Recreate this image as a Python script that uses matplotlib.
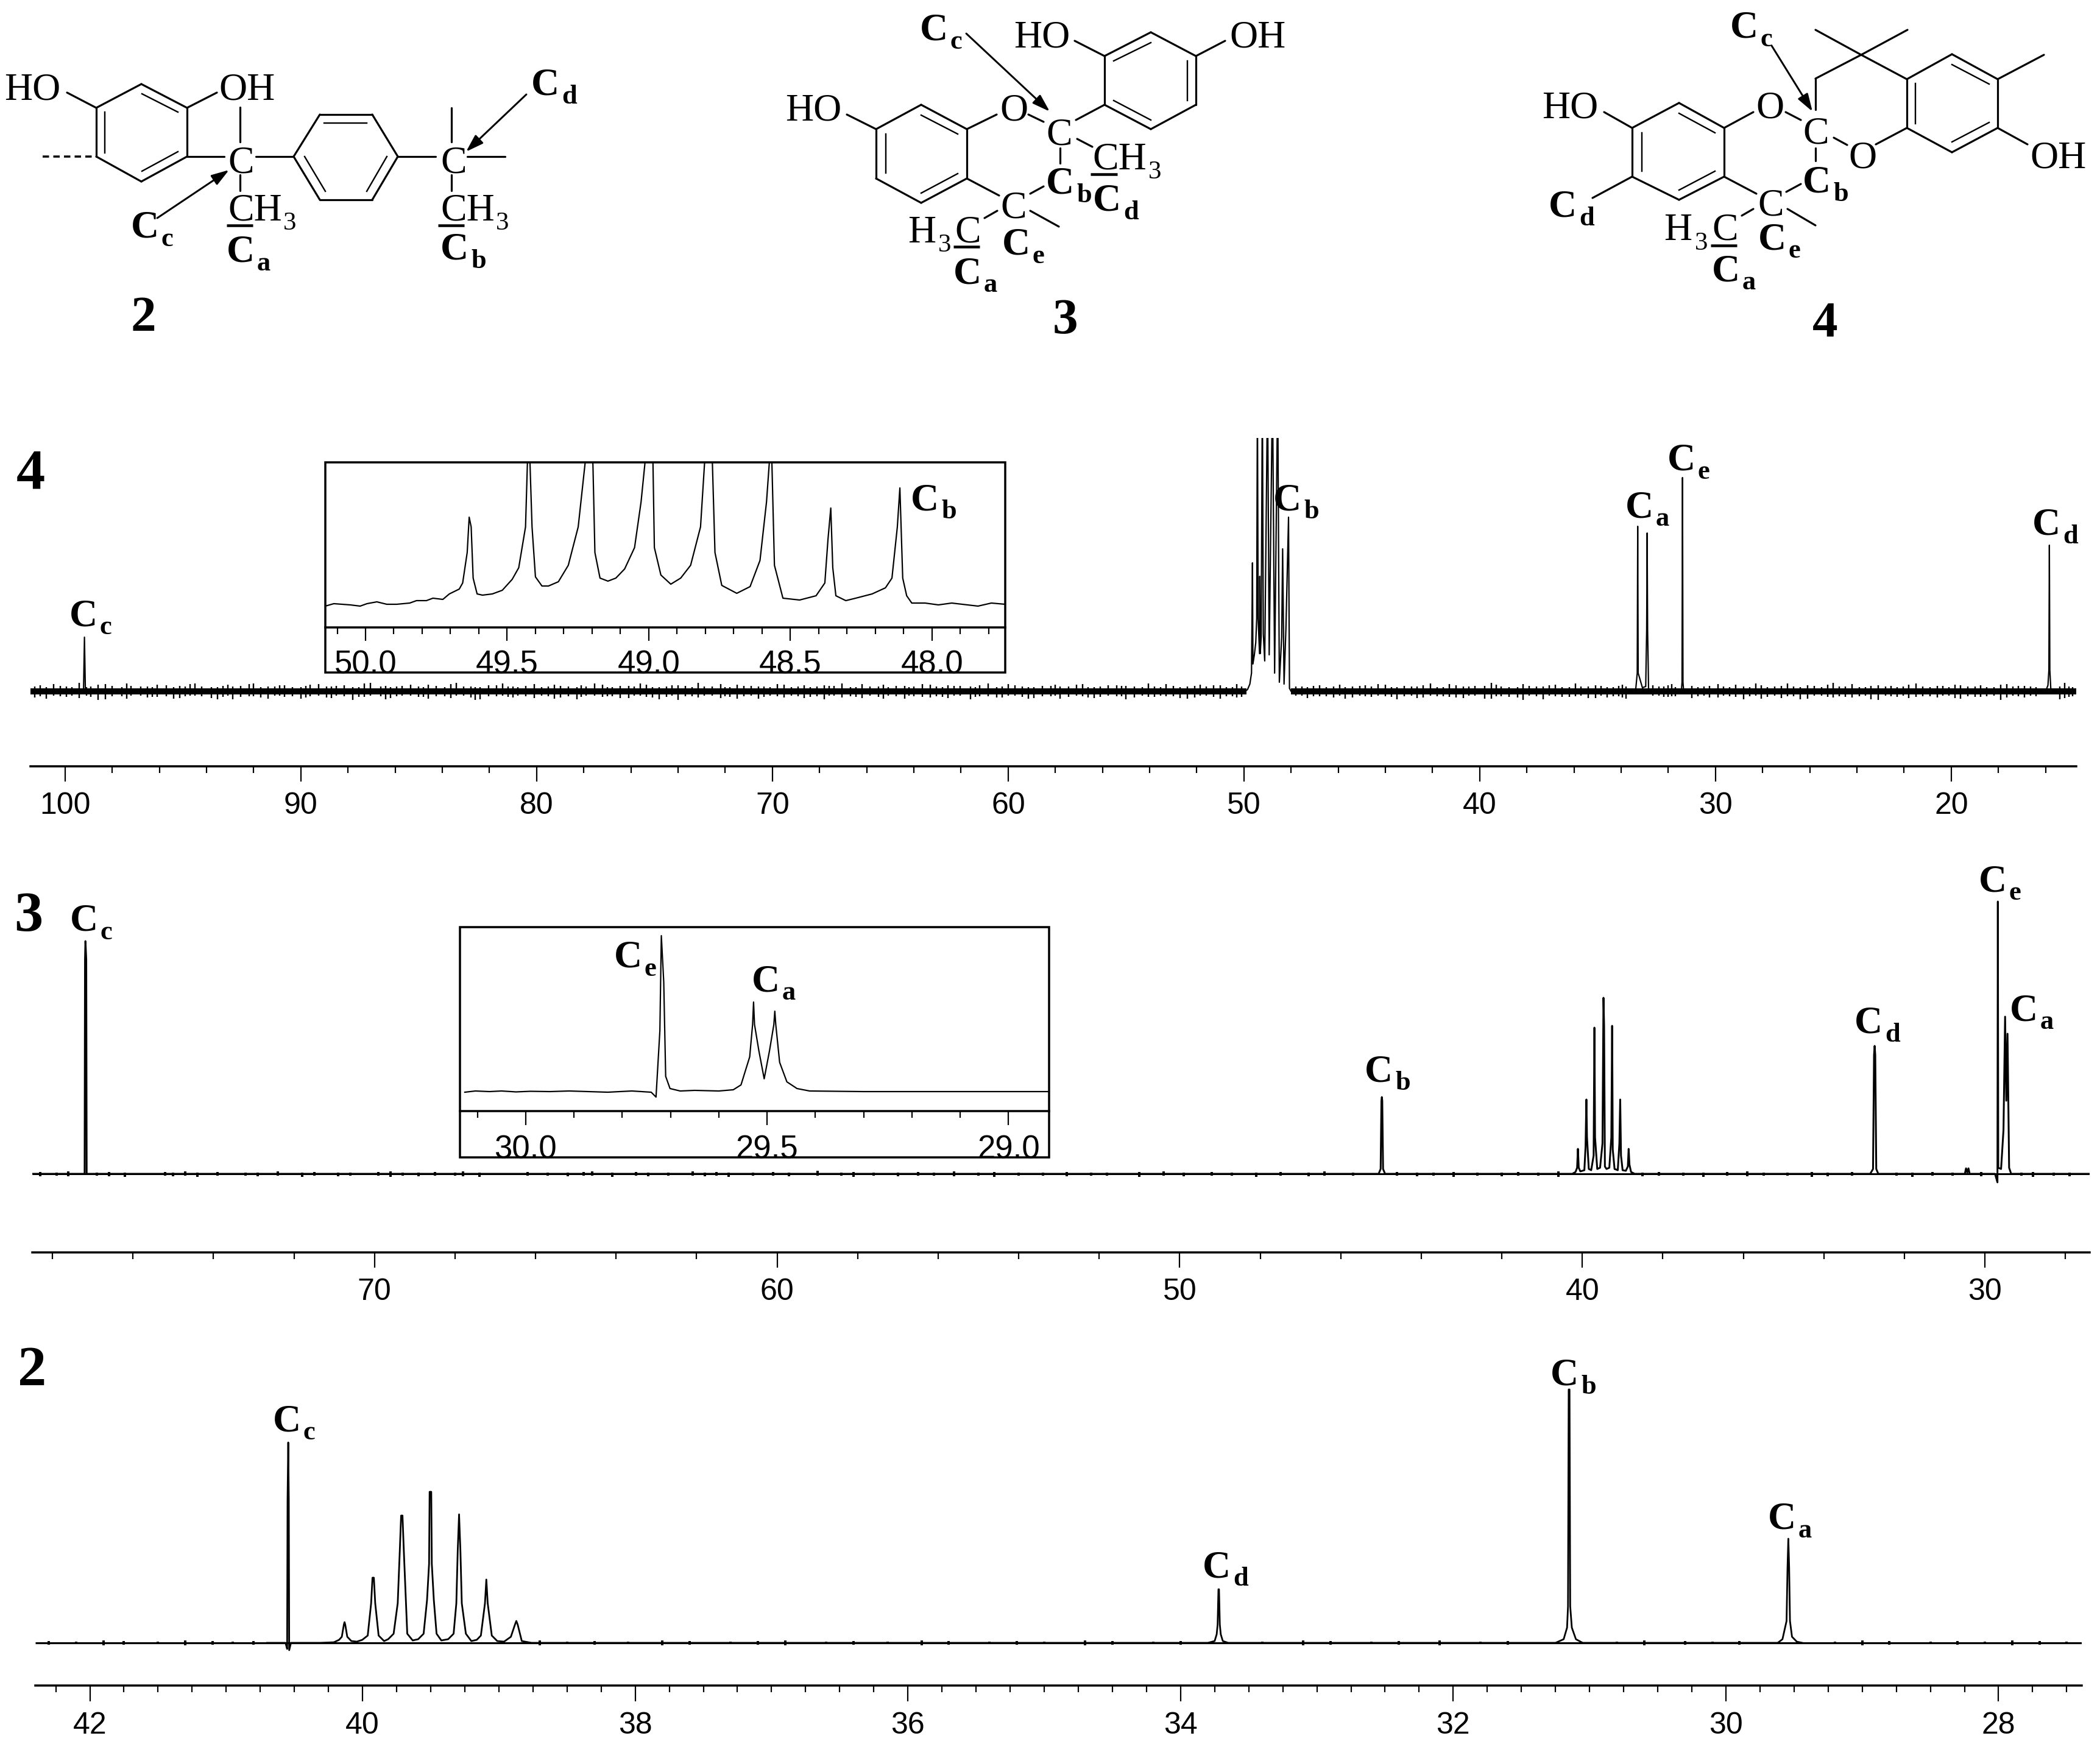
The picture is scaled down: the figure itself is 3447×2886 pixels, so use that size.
import matplotlib
matplotlib.use("Agg")
import matplotlib.pyplot as plt
from matplotlib.patches import Rectangle
from matplotlib.ticker import MultipleLocator, FormatStrFormatter

W, H = 3448, 2886
DPI = 100
PT = 72 / DPI  # one pixel in points

# ----------------------------
# Spectrum of 4 (ppm, height above baseline)
# ----------------------------
PPM4 = [99.22, 99.18, 99.14,
        49.95, 49.85, 49.75, 49.72, 49.68, 49.66, 49.64, 49.62, 49.56, 49.50, 49.46, 49.43, 49.40,
        49.34, 49.33, 49.31, 49.27, 49.22, 49.18, 49.12, 49.0, 48.93, 48.79, 48.70, 48.57, 48.50,
        48.40, 48.36, 48.30, 48.22, 48.11, 48.07, 48.0,
        33.5, 33.38, 33.32, 33.3, 33.28, 33.1, 32.96, 32.92, 32.9, 32.88, 32.84, 32.7,
        31.45, 31.42, 31.4, 31.38, 31.35,
        16.0, 15.9, 15.86, 15.84, 15.82, 15.78, 15.7]
INT4 = [0, 89, 0,
        0, 3, 12, 20, 30, 118, 211, 45, 60, 80, 120, 500, 120,
        62, 189, 62, 90, 500, 95, 50, 500, 60, 500, 30, 500, 15,
        89, 234, 12, 104, 286, 5, 0,
        0, 5, 30, 271, 30, 6, 8, 101, 260, 101, 5, 0,
        0, 15, 351, 15, 0,
        0, 10, 35, 240, 35, 5, 0]
NOISE4_PPM = [101.3, 100.8, 100.2, 99.7, 99.4, 98.9, 98.3, 97.6, 97.2, 96.5, 96.1, 95.4, 94.9, 94.5,
              93.8, 93.3, 92.9, 92.2, 91.7, 91.1, 90.7, 90.0, 89.6, 88.9, 88.5, 87.8, 87.3, 86.6,
              86.2, 85.7, 85.0, 84.6, 83.9, 83.4, 82.8, 82.4, 81.7, 81.2, 80.8, 80.1, 79.5, 79.0,
              78.3, 77.9, 77.2, 76.8, 76.1, 75.6, 75.1, 74.5, 74.0, 73.4, 72.9, 72.2, 71.8, 71.2,
              70.6, 70.1, 69.5, 68.9, 68.4, 67.8, 67.4, 66.7, 66.2, 65.5, 65.1, 64.4, 64.0, 63.3,
              62.8, 62.3, 61.6, 61.2, 60.5, 60.0, 59.4, 58.9, 58.2, 57.8, 57.1, 56.6, 56.1, 55.4,
              55.0, 54.3, 53.8, 53.3, 52.7, 52.1, 51.6, 51.0, 50.5, 50.1, 47.8, 47.3, 46.8, 46.2,
              45.7, 45.1, 44.6, 44.0, 43.5, 42.9, 42.4, 41.8, 41.3, 40.7, 40.2, 39.5, 39.1, 38.4,
              37.9, 37.3, 36.8, 36.2, 35.7, 35.1, 34.6, 34.1, 33.8, 32.4, 32.0, 31.7, 31.0, 30.5,
              29.9, 29.4, 28.8, 28.3, 27.8, 27.2, 26.7, 26.1, 25.5, 25.0, 24.5, 23.9, 23.4, 22.8,
              22.3, 21.8, 21.2, 20.6, 20.1, 19.6, 19.0, 18.5, 17.9, 17.4, 16.9, 16.4, 15.4, 15.0]
NOISE4_UP = [8, 7, 9, 7, 14, 8, 12, 7, 9, 8, 11, 7, 8, 13,
             7, 9, 8, 12, 7, 8, 10, 7, 11, 8, 9, 7, 13, 8,
             7, 9, 8, 11, 7, 14, 8, 7, 10, 8, 7, 12, 8, 9,
             7, 8, 11, 7, 9, 13, 7, 8, 10, 7, 8, 12, 7, 9,
             8, 7, 11, 8, 7, 10, 9, 7, 12, 8, 7, 9, 8, 11,
             7, 9, 8, 10, 7, 12, 8, 7, 9, 8, 11, 7, 8, 10,
             9, 7, 8, 12, 7, 9, 8, 10, 7, 8, 8, 7, 10, 8,
             7, 9, 8, 11, 7, 8, 10, 7, 12, 8, 9, 14, 8, 7,
             9, 8, 11, 7, 8, 10, 7, 9, 8, 8, 10, 7, 9, 8,
             12, 7, 8, 13, 7, 9, 8, 10, 7, 14, 8, 7, 9, 8,
             7, 11, 8, 9, 7, 10, 8, 7, 11, 8, 9, 7, 8, 8]
NOISE4_DOWN = [10, 12, 8, 7, 11, 9, 13, 8, 7, 10, 9, 12, 8, 7,
               11, 9, 13, 8, 10, 7, 9, 12, 8, 10, 7, 14, 9, 8,
               11, 7, 9, 12, 8, 7, 10, 13, 8, 9, 7, 11, 8, 10,
               13, 7, 9, 8, 11, 7, 10, 9, 14, 8, 7, 11, 9, 8,
               12, 7, 10, 8, 9, 13, 7, 8, 11, 9, 7, 12, 8, 10,
               9, 7, 13, 8, 10, 7, 9, 11, 8, 12, 7, 10, 9, 8,
               13, 7, 9, 8, 11, 10, 7, 12, 8, 9, 7, 11, 8, 10,
               12, 7, 9, 8, 13, 7, 10, 8, 9, 11, 7, 12, 8, 10,
               7, 13, 8, 9, 7, 11, 10, 8, 12, 7, 9, 8, 11, 7,
               10, 8, 13, 7, 9, 11, 8, 12, 7, 10, 9, 8, 13, 7,
               9, 11, 8, 10, 7, 12, 9, 8, 14, 7, 10, 8, 13, 9]
NOISE4B_PPM = [101.05, 100.5, 99.95, 99.1, 98.6, 98.0, 97.4, 96.8, 96.3, 95.7, 95.15, 94.7, 94.2, 93.55,
               93.1, 92.55, 92.0, 91.4, 90.9, 90.35, 89.8, 89.25, 88.7, 88.15, 87.55, 87.05, 86.4, 85.95,
               85.35, 84.8, 84.25, 83.65, 83.1, 82.6, 82.05, 81.45, 81.0, 80.45, 79.8, 79.25, 78.65, 78.1,
               77.55, 77.0, 76.45, 75.85, 75.35, 74.8, 74.25, 73.7, 73.15, 72.55, 72.0, 71.5, 70.9, 70.35,
               69.8, 69.2, 68.65, 68.1, 67.6, 67.05, 66.45, 65.85, 65.3, 64.75, 64.2, 63.65, 63.05, 62.55,
               62.05, 61.4, 60.85, 60.25, 59.7, 59.15, 58.55, 58.0, 57.45, 56.85, 56.35, 55.75, 55.2, 54.65,
               54.05, 53.55, 53.0, 52.4, 51.85, 51.3, 50.75, 50.3, 47.55, 47.05, 46.5, 45.95, 45.4, 44.85,
               44.3, 43.75, 43.2, 42.65, 42.1, 41.55, 41.0, 40.45, 39.8, 39.3, 38.75, 38.15, 37.6, 37.05,
               36.5, 35.95, 35.4, 34.85, 34.35, 33.95, 32.65, 32.2, 31.85, 30.75, 30.25, 29.65, 29.15, 28.55,
               28.05, 27.5, 26.95, 26.4, 25.8, 25.25, 24.75, 24.2, 23.65, 23.1, 22.55, 22.05, 21.5, 20.9,
               20.35, 19.85, 19.3, 18.75, 18.2, 17.65, 17.15, 16.65, 15.2, 14.85]

INSET4_PPM = [50.142, 50.112, 50.054, 50.019, 49.995, 49.960, 49.925, 49.890, 49.844, 49.820, 49.785,
              49.762, 49.727, 49.704, 49.669, 49.657, 49.641, 49.634, 49.627, 49.620, 49.606, 49.587,
              49.552, 49.517, 49.482, 49.459, 49.435, 49.424, 49.412, 49.400, 49.377, 49.354, 49.319,
              49.284, 49.249, 49.225, 49.211, 49.197, 49.190, 49.172, 49.144, 49.116, 49.085, 49.050,
              49.027, 49.013, 48.999, 48.985, 48.980, 48.957, 48.922, 48.887, 48.852, 48.817, 48.803,
              48.789, 48.775, 48.766, 48.742, 48.689, 48.642, 48.607, 48.584, 48.574, 48.570, 48.565,
              48.556, 48.526, 48.467, 48.409, 48.378, 48.367, 48.357, 48.350, 48.339, 48.304, 48.269,
              48.211, 48.164, 48.141, 48.122, 48.113, 48.103, 48.089, 48.071, 48.024, 47.977, 47.930,
              47.837, 47.790, 47.741]
INSET4_INT = [-3, 1, -1, -3, 1, 4, 0, 0, 2, 6, 6,
              10, 8, 17, 25, 35, 85, 143, 127, 43, 17, 15,
              17, 23, 41, 60, 127, 300, 127, 45, 30, 30, 37,
              64, 127, 230, 300, 230, 85, 43, 38, 43, 58, 93,
              168, 233, 300, 233, 93, 48, 33, 43, 64, 127, 230,
              300, 230, 85, 31, 18, 29, 72, 168, 233, 300, 233,
              64, 10, 7, 14, 35, 106, 158, 60, 14, 6, 10,
              17, 27, 43, 127, 191, 43, 14, 2, 2, -1, 2,
              -3, 2, 0]

# ----------------------------
# Spectrum of 3
# ----------------------------
PPM3 = [78.5, 77.2, 77.19, 77.18, 77.16, 77.15,
        45.06, 45.01, 44.99, 44.98, 44.97, 44.95, 44.9,
        40.25, 40.17, 40.13, 40.11, 40.09, 40.05, 39.95, 39.92, 39.90, 39.885, 39.84, 39.78, 39.72,
        39.70, 39.685, 39.63, 39.56, 39.50, 39.475, 39.46, 39.44, 39.40, 39.33, 39.28, 39.26, 39.245,
        39.20, 39.12, 39.08, 39.06, 39.04, 39.0, 38.92, 38.87, 38.85, 38.83, 38.79, 38.7,
        32.85, 32.78, 32.755, 32.74, 32.725, 32.70, 32.65,
        30.5, 30.47, 30.44, 30.41, 30.38,
        29.75, 29.69, 29.68, 29.67, 29.60, 29.54, 29.50, 29.47, 29.44, 29.40, 29.35, 27.4]
INT3 = [0, 0, 352, 382, 352, 0,
        0, 8, 120, 126, 120, 8, 0,
        0, 3, 10, 41, 10, 4, 6, 45, 122, 60, 8, 6, 30,
        240, 60, 8, 10, 50, 289, 243, 12, 8, 10, 60, 243, 40,
        8, 6, 50, 122, 30, 6, 5, 12, 41, 15, 3, 0,
        0, 8, 195, 210, 195, 8, 0,
        0, 9, 2, 9, 0,
        0, -14, 447, 10, 8, 72, 258, 120, 230, 10, 0, 0]
NOISE3_PPM = [78.3, 77.9, 77.6, 76.9, 76.6, 76.2, 75.2, 75.0, 74.7, 74.4, 73.9, 73.2, 72.9, 72.4, 71.8,
              71.5, 70.9, 70.6, 69.9, 69.6, 69.3, 68.9, 68.5, 68.0, 67.8, 67.4, 66.2, 65.7, 65.2, 64.8,
              64.6, 64.1, 63.5, 63.2, 62.7, 62.1, 61.8, 61.5, 61.2, 60.6, 60.1, 59.7, 59.0, 58.4, 58.1,
              57.6, 57.0, 56.5, 56.1, 55.6, 55.0, 54.6, 54.0, 53.4, 52.8, 52.2, 51.8, 51.0, 50.4, 49.9,
              49.2, 48.7, 48.1, 47.5, 46.8, 46.4, 45.7, 44.6, 44.1, 43.7, 43.2, 42.6, 42.0, 41.6, 41.1,
              40.6, 38.5, 38.1, 37.5, 37.0, 36.4, 35.9, 35.5, 34.9, 34.3, 33.9, 33.3, 32.2, 31.8, 31.3,
              30.8, 30.1, 29.1, 28.8, 28.3, 27.9]
NOISE3_UP = [3, 2, 4, 2, 3, 2, 3, 2, 4, 2, 3, 2, 2, 4, 2,
             3, 2, 2, 3, 4, 2, 2, 3, 2, 4, 2, 3, 2, 2, 3,
             4, 2, 3, 2, 2, 4, 2, 3, 2, 2, 3, 2, 5, 2, 3,
             2, 2, 3, 2, 4, 2, 3, 2, 2, 3, 2, 2, 3, 4, 2,
             3, 2, 2, 3, 2, 4, 2, 3, 2, 2, 3, 2, 2, 3, 2,
             4, 2, 3, 2, 2, 3, 4, 2, 2, 3, 2, 3, 2, 2, 3,
             2, 3, 2, 3, 2, 2]
NOISE3_DOWN = [4, 3, 4, 3, 4, 5, 3, 4, 3, 5, 3, 3, 4, 3, 5,
               3, 4, 3, 3, 5, 3, 4, 3, 3, 4, 5, 3, 3, 4, 3,
               3, 5, 3, 4, 3, 3, 4, 3, 5, 3, 3, 4, 3, 3, 5,
               3, 4, 3, 3, 4, 3, 5, 3, 3, 4, 3, 3, 5, 3, 4,
               3, 3, 5, 3, 4, 3, 3, 3, 4, 3, 5, 3, 4, 3, 3,
               5, 4, 3, 3, 5, 3, 4, 3, 3, 5, 4, 3, 3, 5, 3,
               3, 4, 3, 5, 3, 4]

INSET3_PPM = [30.126, 30.104, 30.075, 30.05, 30.02, 29.99, 29.95, 29.91, 29.87, 29.83, 29.78, 29.74,
              29.730, 29.722, 29.719, 29.714, 29.710, 29.701, 29.68, 29.65, 29.60, 29.57,
              29.554, 29.536, 29.530, 29.528, 29.526, 29.517, 29.506, 29.495, 29.486, 29.484, 29.482,
              29.474, 29.459, 29.438, 29.412, 29.30, 29.15, 29.0, 28.916]
INSET3_INT = [-1, 1, 0, 1, -0.5, 0.5, 0, 1, 0, -1, 1, -1,
              -9, 100, 256, 180, 25, 5, 1, 2, 1, 3,
              11, 57, 110, 147, 110, 67, 21, 67, 110, 132, 110,
              48, 16, 5, 1, 0, 0, 0, 0]

# ----------------------------
# Spectrum of 2
# ----------------------------
PPM2 = [40.7, 40.565, 40.553, 40.55, 40.545, 40.541, 40.538, 40.525, 40.4, 40.31, 40.21,
        40.172, 40.152, 40.137, 40.132, 40.127, 40.112, 40.082, 40.042,
        40.002, 39.962, 39.937, 39.927, 39.917, 39.907, 39.882, 39.842,
        39.812, 39.772, 39.742, 39.727, 39.717, 39.707, 39.697, 39.672, 39.632,
        39.592, 39.552, 39.527, 39.512, 39.508, 39.496, 39.492, 39.477, 39.457, 39.422,
        39.372, 39.332, 39.312, 39.302, 39.292, 39.282, 39.272, 39.242, 39.202,
        39.162, 39.132, 39.102, 39.092, 39.082, 39.052, 39.012,
        38.962, 38.912, 38.882, 38.872, 38.862, 38.832, 38.76,
        33.80, 33.75, 33.735, 33.728, 33.722, 33.718, 33.712, 33.705, 33.69, 33.65,
        31.25, 31.19, 31.165, 31.158, 31.153, 31.147, 31.142, 31.13, 31.10, 31.05,
        29.62, 29.585, 29.555, 29.548, 29.542, 29.536, 29.53, 29.515, 29.48, 29.44]
INT2 = [0, 0, -10, 235, 329, 235, -12, 0, 0, 0, 1,
        5, 10, 30, 34, 30, 10, 3, 2,
        5, 12, 65, 107, 107, 65, 12, 3,
        6, 15, 65, 150, 209, 209, 150, 15, 4,
        6, 15, 70, 130, 248, 248, 130, 70, 15, 4,
        6, 15, 65, 150, 211, 150, 65, 15, 3,
        5, 12, 65, 104, 65, 12, 3,
        2, 10, 30, 36, 30, 3, 0,
        0, 3, 14, 30, 88, 88, 30, 14, 3, 0,
        0, 6, 25, 60, 416, 416, 60, 25, 6, 0,
        0, 6, 36, 123, 171, 123, 36, 10, 2, 0]
NOISE2_PPM = [42.3, 42.1, 41.9, 41.75, 41.5, 41.3, 41.1, 40.95, 40.8, 38.7, 38.5, 38.3, 38.05, 37.8, 37.6, 37.3,
              37.1, 36.9, 36.6, 36.4, 36.15, 35.9, 35.7, 35.4, 35.2, 35.0, 34.7, 34.5, 34.2, 34.0, 33.4, 33.1,
              32.9, 32.6, 32.4, 32.1, 31.8, 31.6, 30.8, 30.6, 30.3, 30.1, 29.9, 29.2, 29.0, 28.8, 28.5,
              28.3, 28.1, 27.9, 27.7, 27.5]
NOISE2_AMP = [3, 2, 4, 3, 2, 4, 3, 2, 3, 4, 2, 3, 2, 4, 3, 2,
              3, 4, 2, 3, 2, 4, 3, 2, 3, 2, 4, 3, 2, 3, 2, 4,
              3, 2, 3, 4, 2, 3, 2, 4, 3, 2, 3, 2, 4, 3, 2,
              3, 2, 4, 3, 2]

# ----------------------------
# Tick and frame settings
# ----------------------------
TICK_FONT = "Liberation Sans"
TICK_SIZE = 36

# ----------------------------
# Structure drawings, in figure pixels
# ----------------------------
BONDS = [
    # 2
    (232, 138, 307, 177), (307, 177, 307, 257), (307, 257, 232, 298), (232, 298, 158, 257),
    (158, 257, 158, 177), (158, 177, 232, 138), (110, 152, 158, 177), (307, 177, 356, 152),
    (307, 257, 368, 257), (420, 257, 482, 257), (394, 176, 394, 233), (394, 287, 394, 313),
    (482, 257, 525, 188), (525, 188, 611, 188), (611, 188, 653, 257), (653, 257, 611, 328),
    (611, 328, 525, 328), (525, 328, 482, 257), (653, 257, 715, 257), (767, 257, 829, 257),
    (741, 177, 741, 233), (741, 287, 741, 313),
    # 3
    (1889, 53, 1963, 92), (1963, 92, 1963, 172), (1963, 172, 1889, 212), (1889, 212, 1813, 172),
    (1813, 172, 1813, 92), (1813, 92, 1889, 53), (1764, 67, 1813, 92), (2011, 67, 1963, 92),
    (1512, 172, 1587, 212), (1587, 212, 1587, 293), (1587, 293, 1512, 333), (1512, 333, 1438, 293),
    (1438, 293, 1438, 212), (1438, 212, 1512, 172), (1390, 188, 1438, 212), (1587, 212, 1636, 188),
    (1688, 188, 1713, 200), (1766, 197, 1813, 172), (1768, 228, 1793, 241), (1740, 243, 1740, 268),
    (1713, 306, 1691, 318), (1587, 293, 1640, 321), (1637, 346, 1616, 358), (1691, 346, 1738, 372),
    # 4
    (2756, 169, 2830, 210), (2830, 210, 2830, 290), (2830, 290, 2756, 328), (2756, 328, 2679, 290),
    (2679, 290, 2679, 210), (2679, 210, 2756, 169), (2633, 184, 2679, 210), (2830, 210, 2878, 184),
    (2931, 184, 2956, 197), (2980, 180, 2980, 129), (2980, 129, 3055, 90), (3055, 90, 2980, 49),
    (3055, 90, 3131, 49), (3055, 90, 3130, 130), (3130, 130, 3204, 89), (3204, 89, 3279, 130),
    (3279, 130, 3279, 210), (3279, 210, 3204, 250), (3204, 250, 3130, 210), (3130, 210, 3130, 130),
    (3279, 130, 3355, 90), (3279, 210, 3328, 237), (3079, 237, 3130, 210), (3010, 226, 3032, 238),
    (2980, 243, 2980, 264), (2956, 302, 2932, 315), (2830, 290, 2883, 318), (2878, 343, 2859, 354),
    (2934, 343, 2980, 370), (2679, 290, 2614, 325),
]
INNER_BONDS = [
    (233, 154, 292, 184), (172, 184, 172, 251), (233, 281, 292, 249),
    (532, 202, 602, 202), (500, 257, 534, 314), (635, 257, 602, 314),
    (1889, 70, 1828, 100), (1949, 100, 1949, 165), (1889, 197, 1828, 165),
    (1512, 189, 1572, 220), (1454, 220, 1454, 284), (1512, 317, 1572, 285),
    (2756, 186, 2815, 218), (2695, 218, 2695, 281), (2756, 312, 2815, 281),
    (3204, 106, 3265, 138), (3144, 137, 3144, 203), (3204, 233, 3265, 201),
]
UNDERLINES = [(372, 415, 370), (719, 762, 370), (1790, 1834, 286), (1565, 1608, 405), (2808, 2851, 403)]
ARROWS = [(258, 358, 376, 279), (864, 155, 765, 249), (1586, 55, 1723, 183), (2908, 75, 2975, 183)]
ATOMS = [
    ("HO", 7, 164), ("OH", 359, 164), ("C", 374, 283), ("C", 723, 283), ("CH", 374, 362), ("CH", 723, 362),
    ("HO", 1664, 78), ("OH", 2018, 78), ("HO", 1289, 198), ("O", 1641, 198), ("C", 1717, 238),
    ("CH", 1793, 277), ("C", 1642, 358), ("H", 1490, 398), ("C", 1567, 398),
    ("HO", 2531, 194), ("O", 2882, 194), ("C", 2959, 235), ("O", 3034, 275), ("OH", 3332, 275),
    ("C", 2885, 354), ("H", 2731, 394), ("C", 2810, 394),
]
THREES = [(465, 377), (814, 377), (1885, 293), (1540, 413), (2782, 410)]
# subscript letter, left edge of the C, baseline of the C
CARBON_LABELS = [
    ("a", 372, 430), ("b", 723, 426), ("c", 215, 390), ("d", 872, 156),
    ("c", 1510, 66), ("b", 1717, 318), ("d", 1794, 346), ("a", 1565, 465), ("e", 1645, 418),
    ("c", 2840, 62), ("b", 2959, 316), ("d", 2542, 356), ("a", 2810, 461), ("e", 2886, 409),
    ("c", 114, 1027), ("b", 1495, 837), ("b", 2090, 837), ("a", 2668, 849), ("e", 2737, 772), ("d", 3336, 878),
    ("c", 115, 1528), ("e", 1008, 1588), ("a", 1234, 1627), ("b", 2240, 1775), ("d", 3044, 1696),
    ("a", 3299, 1675), ("e", 3248, 1463),
    ("c", 448, 2349), ("d", 1974, 2589), ("b", 2545, 2274), ("a", 2902, 2510),
]
BIG_NUMBERS = [("2", 215, 543, 60), ("3", 1728, 547, 60), ("4", 2975, 551, 60),
               ("4", 27, 802, 68), ("3", 23, 1528, 68), ("2", 29, 2274, 68)]

fig = plt.figure(figsize=(W / DPI, H / DPI), dpi=DPI, facecolor="white")


def px_axes(left, top, right, bottom, zorder=1):
    ax = fig.add_axes([left / W, 1 - bottom / H, (right - left) / W, (bottom - top) / H], zorder=zorder)
    ax.patch.set_alpha(0)
    return ax


def setup_spectrum(ax, xlim, base_y, top, axis_y, major, minor, long_tick=25, fmt="%d", pad=17,
                   label_size=TICK_SIZE):
    ax.set_xlim(*xlim)
    ax.set_ylim(-(axis_y - base_y), base_y - top)
    ax.xaxis.set_major_locator(MultipleLocator(major))
    ax.xaxis.set_minor_locator(MultipleLocator(minor))
    ax.xaxis.set_major_formatter(FormatStrFormatter(fmt))
    ax.set_yticks([])
    for side in ["top", "left", "right"]:
        ax.spines[side].set_visible(False)
    ax.spines["bottom"].set_linewidth(3.5 * PT)
    ax.tick_params(axis="x", which="major", length=long_tick * PT, width=2.2 * PT, pad=pad * PT,
                   labelsize=label_size)
    ax.tick_params(axis="x", which="minor", length=11 * PT, width=2.2 * PT)
    for lab in ax.get_xticklabels():
        lab.set_fontfamily(TICK_FONT)


# ----------------------------
# Panel 4
# ----------------------------
ax4 = px_axes(50, 719, 3408, 1258)
setup_spectrum(ax4, (101.47, 14.7), 1135, 719, 1258, 10, 2)
ax4.hlines(0, 101.47, 49.9, color="k", lw=10 * PT)
ax4.hlines(0, 48.0, 14.7, color="k", lw=10 * PT)
ax4.vlines(NOISE4_PPM, [-d for d in NOISE4_DOWN], NOISE4_UP, color="k", lw=2.4 * PT)
n_b = len(NOISE4B_PPM)
ax4.vlines(NOISE4B_PPM, [-d for d in NOISE4_UP[:n_b]], NOISE4_DOWN[:n_b], color="k", lw=2.4 * PT)
ax4.plot(PPM4, INT4, color="k", lw=2.2 * PT)

inset4 = px_axes(534, 759, 1650, 1030, zorder=2)
setup_spectrum(inset4, (50.142, 47.741), 992, 759, 1030, 0.5, 0.1, long_tick=22, fmt="%.1f", pad=14, label_size=38)
inset4.spines["top"].set_visible(True)
inset4.plot(INSET4_PPM, INSET4_INT, color="k", lw=2.2 * PT)

# ----------------------------
# Panel 3
# ----------------------------
ax3 = px_axes(53, 1450, 3430, 2056)
setup_spectrum(ax3, (78.5, 27.4), 1927, 1450, 2056, 10, 2)
ax3.hlines(0, 78.5, 27.4, color="k", lw=3 * PT)
ax3.vlines(NOISE3_PPM, [-d for d in NOISE3_DOWN], NOISE3_UP, color="k", lw=4 * PT)
ax3.plot(PPM3, INT3, color="k", lw=3 * PT)

inset3 = px_axes(755, 1522, 1722, 1824, zorder=2)
setup_spectrum(inset3, (30.136, 28.916), 1792, 1522, 1824, 0.5, 0.1, long_tick=23, fmt="%.1f", pad=15, label_size=38)
inset3.spines["top"].set_visible(True)
inset3.plot(INSET3_PPM, INSET3_INT, color="k", lw=2.2 * PT)

# ----------------------------
# Panel 2
# ----------------------------
ax2 = px_axes(58, 2250, 3417, 2767)
setup_spectrum(ax2, (42.4, 27.39), 2697, 2250, 2767, 2, 0.25, long_tick=26)
ax2.hlines(0, 42.4, 27.39, color="k", lw=3.2 * PT)
ax2.vlines(NOISE2_PPM, [-a for a in NOISE2_AMP], NOISE2_AMP, color="k", lw=4 * PT)
ax2.plot(PPM2, INT2, color="k", lw=2.8 * PT)

# ----------------------------
# Structures, labels, inset frames
# ----------------------------
top = fig.add_axes([0, 0, 1, 1], zorder=5)
top.set_xlim(0, W)
top.set_ylim(H, 0)
top.axis("off")

top.add_patch(Rectangle((534, 759), 1116, 345, fill=False, ec="k", lw=3.5 * PT))
top.add_patch(Rectangle((755, 1522), 967, 378, fill=False, ec="k", lw=3.5 * PT))

for x1, y1, x2, y2 in BONDS:
    top.plot([x1, x2], [y1, y2], color="k", lw=3.2 * PT, solid_capstyle="round")
for x1, y1, x2, y2 in INNER_BONDS:
    top.plot([x1, x2], [y1, y2], color="k", lw=2.4 * PT)
top.plot([70, 158], [257, 257], color="k", lw=3.5 * PT, ls=(0, (3, 2)))
for x1, x2, y in UNDERLINES:
    top.plot([x1, x2], [y, y], color="k", lw=4.5 * PT, solid_capstyle="butt")
for x1, y1, x2, y2 in ARROWS:
    top.annotate("", xy=(x2, y2), xytext=(x1, y1),
                 arrowprops=dict(arrowstyle="-|>,head_length=0.8,head_width=0.26", color="k",
                                 lw=3 * PT, shrinkA=0, shrinkB=0, mutation_scale=22))

SERIF = "Liberation Serif"
for s, x, y in ATOMS:
    top.text(x, y, s, family=SERIF, fontsize=46, ha="left", va="baseline")
for x, y in THREES:
    top.text(x, y, "3", family=SERIF, fontsize=31, ha="left", va="baseline")
for sub, x, y in CARBON_LABELS:
    top.text(x, y, "C", family=SERIF, weight="bold", fontsize=46, ha="left", va="baseline")
    top.text(x + 50, y + 14, sub, family=SERIF, weight="bold", fontsize=32, ha="left", va="baseline")
for s, x, y, size in BIG_NUMBERS:
    top.text(x, y, s, family=SERIF, weight="bold", fontsize=size, ha="left", va="baseline")

fig.savefig("out.png", dpi=DPI, facecolor="white")
